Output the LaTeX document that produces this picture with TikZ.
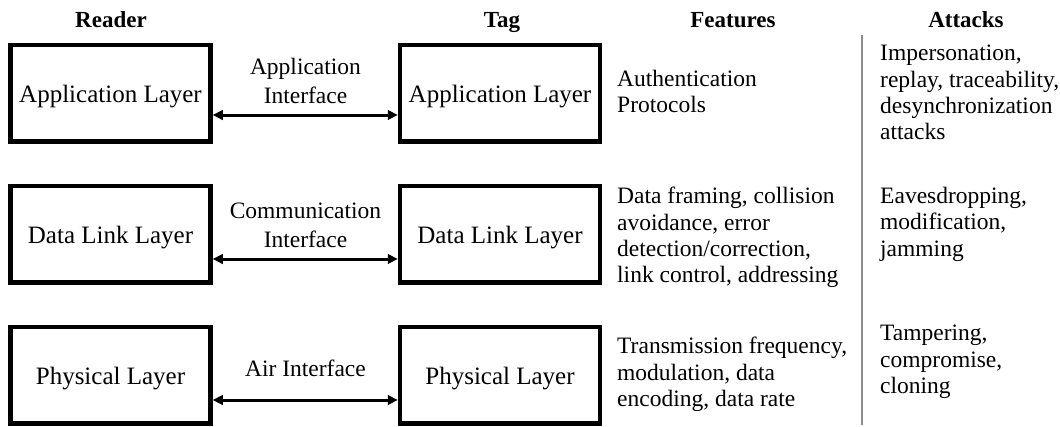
\documentclass[tikz,border=0pt]{standalone}
\usepackage{fontspec}
\setmainfont{Liberation Serif}
\usetikzlibrary{arrows.meta}
\newcommand\fst{\rule{0pt}{15pt}}
\tikzset{
  layerbox/.style={draw, line width=4.5pt, minimum width=200pt, minimum height=96.5pt,
    inner sep=0pt, text height=19.5pt, text depth=0pt, font=\fontsize{25}{26}\selectfont},
  hdr/.style={anchor=base, font=\bfseries\fontsize{23}{26}\selectfont, inner sep=0pt},
  iflabel/.style={align=center, inner sep=0pt, font=\fontsize{23.5}{29}\selectfont},
  desc/.style={align=left, anchor=north west, inner sep=0pt, font=\fontsize{23.5}{26.3}\selectfont},
  conn/.style={{Triangle[length=10pt,width=9.5pt]}-{Triangle[length=10pt,width=9.5pt]}, line width=3pt},
}
\begin{document}
\begin{tikzpicture}[x=1pt, y=-1pt]
\useasboundingbox (0,0) rectangle (1060,426);

% column headings
\node[hdr] (hR) at (111,27) {Reader};
\node[hdr] (hT) at (502,27) {Tag};
\node[hdr] (hF) at (733,27) {Features};
\node[hdr] (hA) at (966,27) {Attacks};

% separator between features and attacks
\coordinate (sepTop) at (862,35);
\coordinate (sepBot) at (862,425);
\draw[line width=1.3pt, black!45] (sepTop) -- (sepBot);

% reader and tag layers
\node[layerbox] (r1) at (110.5,93) {Application Layer};
\node[layerbox] (t1) at (500,93) {Application Layer};
\node[layerbox] (r2) at (110.5,234) {Data Link Layer};
\node[layerbox] (t2) at (500,234) {Data Link Layer};
\node[layerbox] (r3) at (110.5,375) {Physical Layer};
\node[layerbox] (t3) at (500,375) {Physical Layer};

% interfaces between reader and tag
\draw[conn] ([yshift=-22pt]r1.east) -- ([yshift=-22pt]t1.west);
\draw[conn] ([yshift=-25pt]r2.east) -- ([yshift=-25pt]t2.west);
\draw[conn] ([yshift=-25pt]r3.east) -- ([yshift=-25pt]t3.west);
\node[iflabel] (i1) at (305.5,81) {Application\\Interface};
\node[iflabel] (i2) at (305.5,225) {Communication\\Interface};
\node[iflabel] (i3) at (305.5,368) {Air Interface};

% features of each layer
\node[desc] (f1) at (617,70) {\fst Authentication\\Protocols};
\node[desc] (f2) at (617,187) {\fst Data framing, collision\\avoidance, error\\detection/correction,\\link control, addressing};
\node[desc] (f3) at (617,337) {\fst Transmission frequency,\\modulation, data\\encoding, data rate};

% attacks on each layer
\node[desc] (a1) at (880,45) {\fst Impersonation,\\replay, traceability,\\desynchronization\\attacks};
\node[desc] (a2) at (880,187) {\fst Eavesdropping,\\modification,\\jamming};
\node[desc] (a3) at (880,325) {\fst Tampering,\\compromise,\\cloning};
\end{tikzpicture}
\end{document}
